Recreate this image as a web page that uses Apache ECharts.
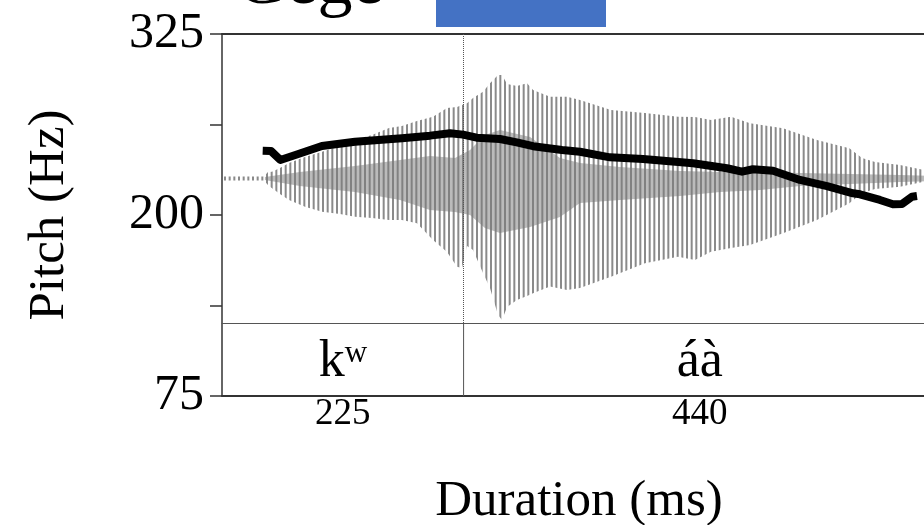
<!DOCTYPE html>
<html>
<head>
<meta charset="utf-8">
<script src="https://cdn.jsdelivr.net/npm/echarts@6/dist/echarts.min.js"></script>
<style>
  html, body { margin: 0; padding: 0; background: #fff; overflow: hidden; }
  /* the time axis runs slightly past the right edge of the window */
  #chart { width: 936px; height: 525px; }
</style>
</head>
<body>
<div id="chart"></div>
<script>
// Segment tier: labels and durations (ms)
const segmentLabels = ['kʷ', 'áà'];
const segmentDurations = [225, 440];

// Pitch axis ticks (Hz) and their printed labels
const pitchTicks = [75, 137.5, 200, 262.5, 325];
const pitchTickLabels = ['75', '', '200', '', '325'];

// F0 track: time (ms) and pitch (Hz)
const pitchTime = [37.9, 45.6, 54.3, 68.3, 93.1, 123.9, 167.6, 193.7, 212.4, 224.5, 237.2, 258.9, 274.5,
  289.7, 316.7, 333.4, 361.4, 392.1, 438.7, 470.3, 484.3, 494.5, 513.2, 538.3, 563.5, 587.7, 594.2,
  612.8, 624.9, 633.3, 642.6, 647.3];
const pitchHz = [244.4, 244.2, 238.0, 241.4, 247.7, 250.6, 253.0, 254.8, 256.4, 255.5, 253.4, 252.5, 250.2,
  247.5, 244.9, 243.7, 239.8, 238.7, 235.7, 232.3, 229.9, 231.6, 230.6, 224.2, 220.0, 215.0, 214.3,
  210.4, 207.4, 207.6, 212.6, 213.1];

// Waveform outer envelope: time (ms), upper and lower amplitude
const waveTime = [0, 39.1, 42.8, 46.6, 54.0, 62.4, 77.3, 93.2, 109.9, 123.9, 139.7, 155.6, 167.6, 181.6,
  196.5, 209.6, 218.9, 223.5, 228.2, 233.8, 243.1, 249.6, 257.1, 260.8, 265.5, 274.7, 284.1, 289.7,
  305.5, 321.3, 333.4, 362.3, 393.9, 424.7, 440.5, 455.4, 474.1, 491.8, 522.5, 554.1, 584.3, 596.1,
  608.2, 631.5, 653.8, 665];
const waveUpper = [0.014, 0.014, 0.045, 0.047, 0.073, 0.107, 0.149, 0.185, 0.225, 0.266, 0.301, 0.349,
  0.363, 0.398, 0.428, 0.488, 0.495, 0.509, 0.520, 0.557, 0.601, 0.659, 0.716, 0.716, 0.654, 0.640,
  0.659, 0.612, 0.566, 0.566, 0.543, 0.474, 0.453, 0.428, 0.426, 0.405, 0.428, 0.382, 0.347, 0.266,
  0.209, 0.142, 0.114, 0.093, 0.059, 0.052];
const waveLower = [-0.014, -0.014, -0.045, -0.068, -0.107, -0.149, -0.195, -0.230, -0.246, -0.264, -0.273,
  -0.287, -0.287, -0.310, -0.426, -0.509, -0.610, -0.619, -0.467, -0.495, -0.654, -0.758, -0.945, -0.979,
  -0.889, -0.841, -0.813, -0.794, -0.748, -0.772, -0.758, -0.680, -0.587, -0.541, -0.564, -0.507, -0.481,
  -0.460, -0.379, -0.287, -0.172, -0.100, -0.073, -0.057, -0.022, -0.024];

// Dense core of the waveform: time (ms), upper and lower amplitude
const coreTime = [40.0, 72.6, 123.9, 165.8, 193.7, 217.0, 231.0, 244.9, 258.9, 286.9, 314.8, 333.4,
  370.7, 426.6, 463.8, 501.1, 538.4, 584.9, 631.5, 665];
const coreUpper = [0.010, 0.045, 0.087, 0.128, 0.156, 0.142, 0.197, 0.301, 0.336, 0.287, 0.142, 0.107,
  0.080, 0.052, 0.045, 0.045, 0.038, 0.031, 0.024, 0.017];
const coreLower = [-0.010, -0.052, -0.093, -0.149, -0.218, -0.232, -0.253, -0.343, -0.377, -0.336, -0.266,
  -0.170, -0.149, -0.121, -0.093, -0.080, -0.052, -0.038, -0.024, -0.017];

const totalDuration = segmentDurations.reduce((a, b) => a + b, 0);
const segmentStarts = segmentDurations.map((d, i) =>
  segmentDurations.slice(0, i).reduce((a, b) => a + b, 0));

const SERIF = '"Liberation Serif", "Times New Roman", "DejaVu Serif", serif';
const AXIS_COLOR = '#333';

// Vertical stroke texture for the waveform fill
function strokePattern(color, period, lineW) {
  const c = document.createElement('canvas');
  c.width = Math.round(period * 3);
  c.height = 2;
  const ctx = c.getContext('2d');
  ctx.fillStyle = color;
  for (let k = 0; k < 3; k++) ctx.fillRect(k * period, 0, lineW, 2);
  return { image: c, repeat: 'repeat' };
}

function bandSeries(times, upper, lower, fill, z) {
  return {
    type: 'custom',
    xAxisIndex: 2,
    yAxisIndex: 1,
    z: z,
    silent: true,
    data: times.map((t, i) => [t, upper[i], lower[i]]),
    renderItem(params, api) {
      if (params.dataIndex !== 0) return null;
      const top = [], bot = [];
      for (let i = 0; i < times.length; i++) {
        top.push(api.coord([times[i], upper[i]]));
        bot.push(api.coord([times[i], lower[i]]));
      }
      return {
        type: 'polygon',
        shape: { points: top.concat(bot.reverse()) },
        style: { fill: fill }
      };
    }
  };
}

const chart = echarts.init(document.getElementById('chart'), null, { renderer: 'canvas' });

const hiddenAxis = { show: false };

chart.setOption({
  animation: false,
  backgroundColor: '#fff',
  grid: [
    { left: 222, top: 34, width: 714, height: 362, outerBoundsMode: 'none', containLabel: false },   // pitch frame
    { left: 222, top: 34, width: 714, height: 289, outerBoundsMode: 'none', containLabel: false },   // waveform panel
    { left: 222, top: 323, width: 714, height: 73, outerBoundsMode: 'none', containLabel: false }    // segment tier
  ],
  xAxis: [
    {
      gridIndex: 0, type: 'value', min: 0, max: totalDuration, position: 'bottom',
      axisLine: { show: true, onZero: false, lineStyle: { color: AXIS_COLOR, width: 2 } },
      axisTick: { show: false }, axisLabel: { show: false }, splitLine: { show: false },
      name: 'Duration (ms)', nameLocation: 'middle', nameGap: 80,
      nameTextStyle: { fontFamily: SERIF, fontSize: 51, color: '#000' }
    },
    {
      gridIndex: 0, type: 'value', min: 0, max: totalDuration, position: 'top',
      axisLine: { show: true, onZero: false, lineStyle: { color: AXIS_COLOR, width: 2 } },
      axisTick: { show: false }, axisLabel: { show: false }, splitLine: { show: false }
    },
    Object.assign({ gridIndex: 1, type: 'value', min: 0, max: totalDuration }, hiddenAxis),
    {
      gridIndex: 2, type: 'value', min: 0, max: totalDuration, position: 'top',
      axisLine: { show: true, onZero: false, lineStyle: { color: '#555', width: 1.2 } },
      axisTick: { show: false }, axisLabel: { show: false }, splitLine: { show: false }
    }
  ],
  yAxis: [
    {
      gridIndex: 0, type: 'value', min: pitchTicks[0], max: pitchTicks[pitchTicks.length - 1],
      interval: pitchTicks[1] - pitchTicks[0],
      axisLine: { show: true, onZero: false, lineStyle: { color: AXIS_COLOR, width: 1.5 } },
      axisTick: { show: true, length: 12, lineStyle: { color: AXIS_COLOR, width: 1.5 } },
      splitLine: { show: false },
      axisLabel: {
        fontFamily: SERIF, fontSize: 50, color: '#000', margin: 18,
        formatter: v => {
          const i = pitchTicks.findIndex(t => Math.abs(t - v) < 1e-6);
          return i >= 0 ? pitchTickLabels[i] : '';
        }
      },
      name: 'Pitch (Hz)', nameLocation: 'middle', nameGap: 147,
      nameTextStyle: { fontFamily: SERIF, fontSize: 51, color: '#000' }
    },
    Object.assign({ gridIndex: 1, type: 'value', min: -1, max: 1 }, hiddenAxis),
    Object.assign({ gridIndex: 2, type: 'value', min: 0, max: 1 }, hiddenAxis)
  ],
  graphic: [
    {
      type: 'rect', left: 436, top: 0, z: 10,
      shape: { width: 170, height: 27 },
      style: { fill: '#4472C4' }
    },
    {
      type: 'text', x: 236, y: 20, z: 10,
      style: { text: 'Gege', font: '70px ' + SERIF, fill: '#000', verticalAlign: 'bottom' }
    }
  ],
  series: [
    bandSeries(waveTime, waveUpper, waveLower, strokePattern('#8a8a8a', 4.67, 2.0), 2),
    bandSeries(coreTime, coreUpper, coreLower, 'rgba(120,120,120,0.5)', 3),
    {
      // segment boundary through the waveform panel
      type: 'line', xAxisIndex: 2, yAxisIndex: 1, data: [], z: 4,
      markLine: {
        silent: true, symbol: 'none', label: { show: false },
        lineStyle: { color: '#555', width: 1, type: 'dotted' },
        data: segmentStarts.slice(1).map(s => ({ xAxis: s }))
      }
    },
    {
      type: 'line', xAxisIndex: 0, yAxisIndex: 0, z: 5,
      data: pitchTime.map((t, i) => [t, pitchHz[i]]),
      showSymbol: false, smooth: false,
      lineStyle: { color: '#000', width: 8, cap: 'butt', join: 'round' }
    },
    {
      // segment tier: labels, boundaries and durations
      type: 'custom', xAxisIndex: 3, yAxisIndex: 2, z: 5, silent: true,
      data: segmentLabels.map((lab, i) => [segmentStarts[i], segmentStarts[i] + segmentDurations[i], i]),
      renderItem(params, api) {
        const i = api.value(2);
        const start = api.value(0), end = api.value(1);
        const mid = api.coord([(start + end) / 2, 0.5]);
        const bottom = api.coord([(start + end) / 2, 0]);
        const children = [
          {
            type: 'text',
            style: {
              x: mid[0], y: mid[1] + 3, text: segmentLabels[i],
              font: '52px ' + SERIF, fill: '#000', align: 'center', verticalAlign: 'middle'
            }
          },
          {
            type: 'text',
            style: {
              x: bottom[0], y: bottom[1] + 18, text: String(segmentDurations[i]),
              font: '37px ' + SERIF, fill: '#000', align: 'center', verticalAlign: 'middle'
            }
          }
        ];
        if (end < totalDuration) {
          const p0 = api.coord([end, 1]), p1 = api.coord([end, 0]);
          children.push({
            type: 'line',
            shape: { x1: p0[0], y1: p0[1], x2: p1[0], y2: p1[1] },
            style: { stroke: '#555', lineWidth: 1 }
          });
        }
        return { type: 'group', children: children };
      }
    }
  ]
});
</script>
</body>
</html>
